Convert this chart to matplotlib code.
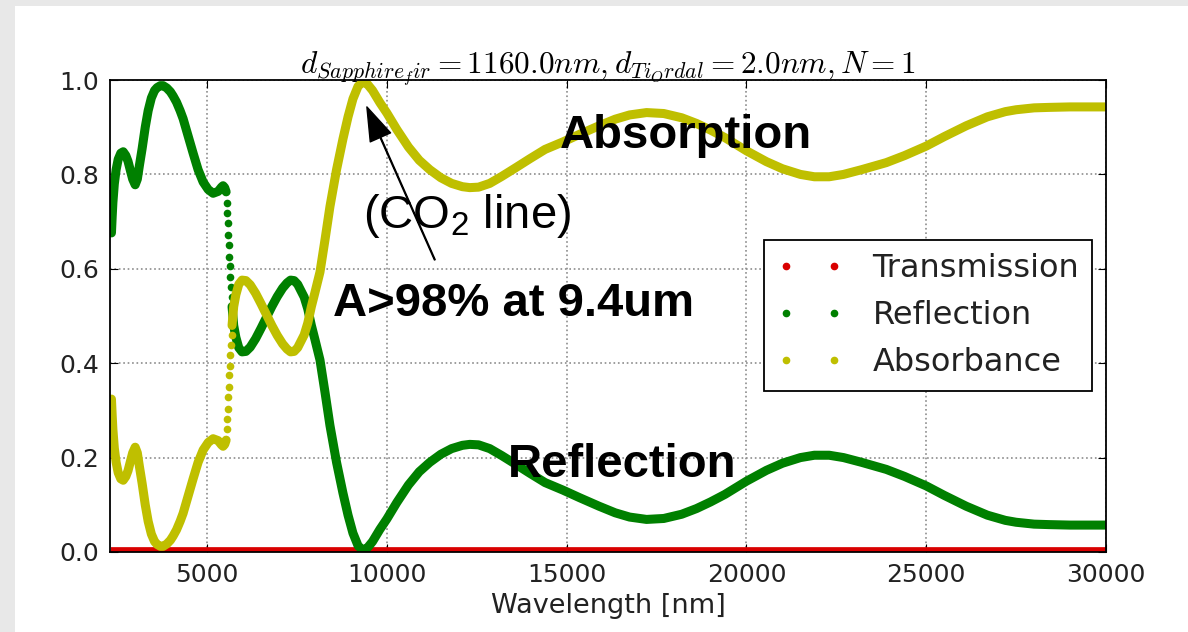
import matplotlib
matplotlib.use("Agg")
import matplotlib.pyplot as plt
from matplotlib.lines import Line2D
from matplotlib.patches import Rectangle

# valores (longitud de onda en nm)
# tramo antes del salto
wl_a = [2340, 2360, 2380, 2420, 2470, 2528, 2600, 2667, 2740, 2800, 2861, 2930,
        3000, 3060, 3120, 3194, 3280, 3361, 3450, 3540, 3611, 3700, 3778, 3880,
        3980, 4056, 4150, 4250, 4333, 4470, 4611, 4750, 4889, 5030, 5167, 5306,
        5400, 5444, 5490, 5530]
refl_a = [0.676, 0.71, 0.74, 0.78, 0.81, 0.832, 0.845, 0.848, 0.84, 0.828, 0.81, 0.79,
          0.778, 0.79, 0.82, 0.855, 0.9, 0.935, 0.962, 0.978, 0.984, 0.988, 0.988, 0.983,
          0.975, 0.966, 0.953, 0.935, 0.918, 0.882, 0.845, 0.81, 0.784, 0.768, 0.76, 0.764,
          0.773, 0.776, 0.772, 0.763]
abs_a = [0.324, 0.29, 0.26, 0.22, 0.19, 0.168, 0.155, 0.152, 0.16, 0.172, 0.19, 0.21,
         0.222, 0.21, 0.18, 0.145, 0.1, 0.065, 0.038, 0.022, 0.016, 0.012, 0.012, 0.017,
         0.025, 0.034, 0.047, 0.065, 0.082, 0.118, 0.155, 0.19, 0.216, 0.232, 0.24, 0.236,
         0.227, 0.224, 0.228, 0.237]

# salto (puntos sueltos)
wl_j = [5545, 5560, 5575, 5590, 5605, 5620, 5635, 5650, 5665, 5680]
refl_j = [0.739, 0.718, 0.697, 0.672, 0.65, 0.626, 0.605, 0.583, 0.562, 0.541]
abs_j = [0.261, 0.282, 0.303, 0.328, 0.35, 0.374, 0.395, 0.417, 0.438, 0.459]

# tramo despues del salto
wl_b = [5694, 5740, 5800, 5880, 5972, 6080, 6200, 6350, 6500, 6650, 6800, 6950,
        7100, 7222, 7320, 7420, 7520, 7620, 7700, 7800, 7900, 8000, 8139, 8280,
        8417, 8600, 8778, 8920, 9056, 9200, 9333, 9450, 9600, 9806, 10000, 10278,
        10600, 10900, 11194, 11500, 11800, 12100, 12306, 12550, 12861, 13200, 13600,
        13972, 14400, 14900, 15361, 15900, 16350, 16750, 17222, 17700, 18200, 18611,
        19000, 19400, 20000, 20556, 21000, 21500, 21889, 22300, 22700, 23200, 23889,
        24400, 25000, 25500, 26111, 26700, 27200, 27500, 28000, 28417, 29000, 30000]
refl_b = [0.52, 0.48, 0.455, 0.433, 0.424, 0.425, 0.434, 0.452, 0.474, 0.497, 0.52, 0.541,
          0.559, 0.57, 0.576, 0.575, 0.567, 0.552, 0.54, 0.515, 0.48, 0.45, 0.407, 0.338,
          0.268, 0.19, 0.125, 0.078, 0.04, 0.013, 0.004, 0.008, 0.022, 0.048, 0.07, 0.105,
          0.142, 0.17, 0.19, 0.207, 0.219, 0.226, 0.228, 0.227, 0.219, 0.204, 0.185,
          0.167, 0.147, 0.131, 0.115, 0.097, 0.083, 0.074, 0.069, 0.071, 0.08, 0.092,
          0.106, 0.122, 0.15, 0.173, 0.188, 0.2, 0.205, 0.205, 0.2, 0.19, 0.175,
          0.16, 0.14, 0.12, 0.097, 0.078, 0.067, 0.063, 0.059, 0.058, 0.057, 0.057]
abs_b = [0.48, 0.52, 0.545, 0.567, 0.576, 0.575, 0.566, 0.548, 0.526, 0.503, 0.48, 0.459,
         0.441, 0.43, 0.424, 0.425, 0.433, 0.448, 0.46, 0.485, 0.52, 0.55, 0.593, 0.662,
         0.732, 0.81, 0.875, 0.922, 0.96, 0.987, 0.996, 0.992, 0.978, 0.952, 0.93, 0.895,
         0.858, 0.83, 0.81, 0.793, 0.781, 0.774, 0.772, 0.773, 0.781, 0.796, 0.815,
         0.833, 0.853, 0.869, 0.885, 0.903, 0.917, 0.926, 0.931, 0.929, 0.92, 0.908,
         0.894, 0.878, 0.85, 0.827, 0.812, 0.8, 0.795, 0.795, 0.8, 0.81, 0.825,
         0.84, 0.86, 0.88, 0.903, 0.922, 0.933, 0.937, 0.941, 0.942, 0.943, 0.943]

wl_t = [2340, 30000]
trans = [0.0, 0.0]

plt.rcParams['mathtext.fontset'] = 'custom'
plt.rcParams['mathtext.rm'] = 'Liberation Sans'
plt.rcParams['mathtext.it'] = 'Liberation Sans'

fig = plt.figure(figsize=(11.88, 6.32), dpi=100, facecolor='#e8e8e8')
fig.patches.append(Rectangle((15 / 1188, 0), 1, 1 - 6 / 632, transform=fig.transFigure,
                             facecolor='white', edgecolor='none', zorder=-1))
ax = fig.add_axes([0.0926, 0.1266, 0.8384, 0.7468])

verde = (0, 0.5, 0)
amarillo = (0.75, 0.75, 0)
rojo = (0.85, 0, 0)
estilo = dict(lw=6.5, solid_capstyle='round', solid_joinstyle='round')

ax.plot(wl_t, trans, color=rojo, lw=7, solid_capstyle='butt')
ax.plot(wl_a, refl_a, color=verde, **estilo)
ax.plot(wl_j, refl_j, 'o', color=verde, ms=5.5, mec='none')
ax.plot(wl_b, refl_b, color=verde, **estilo)
ax.plot(wl_a, abs_a, color=amarillo, **estilo)
ax.plot(wl_j, abs_j, 'o', color=amarillo, ms=5.5, mec='none')
ax.plot(wl_b, abs_b, color=amarillo, **estilo)

ax.set_xlim(2300, 30000)
ax.set_ylim(0, 1)
ax.set_xticks([5000, 10000, 15000, 20000, 25000, 30000])
ax.set_yticks([0.0, 0.2, 0.4, 0.6, 0.8, 1.0])
ax.grid(True, color='0.55', linestyle=':', lw=1.2)
ax.tick_params(direction='in', top=True, right=True, length=6, labelsize=18,
               labelcolor='#222222', pad=8)
for s in ax.spines.values():
    s.set_linewidth(1.3)
ax.set_xlabel("Wavelength [nm]", fontsize=19.5, color='#222222', labelpad=4)
ax.set_title(r'$d_{Sapphire_fir}=1160.0nm,d_{Ti_Ordal}=2.0nm,N=1$',
             fontsize=22.5, math_fontfamily='cm', pad=4)

handles = [Line2D([], [], color=rojo, marker='.', ls='None', ms=9),
           Line2D([], [], color=verde, marker='.', ls='None', ms=9),
           Line2D([], [], color=amarillo, marker='.', ls='None', ms=9)]
leg = ax.legend(handles, ['Transmission', 'Reflection', 'Absorbance'],
                loc='upper right', bbox_to_anchor=(0.986, 0.661), numpoints=2,
                fontsize=23, fancybox=False, framealpha=1, handlelength=2.1,
                handletextpad=0.9, borderpad=0.4, borderaxespad=0)
leg.get_frame().set_edgecolor('black')
leg.get_frame().set_linewidth(1.3)
for t in leg.get_texts():
    t.set_color('#222222')

fuente = 'Liberation Sans'
ax.text(14806, 0.856, 'Absorption', fontsize=34, fontweight='bold', family=fuente)
ax.text(13361, 0.159, 'Reflection', fontsize=34, fontweight='bold', family=fuente)
ax.text(8500, 0.5, 'A>98% at 9.4um', fontsize=34, fontweight='bold', family=fuente)
ax.text(9333, 0.686, r'(CO$_2$ line)', fontsize=34, family=fuente)
ax.annotate('', xy=(9444, 0.943), xytext=(11333, 0.619),
            arrowprops=dict(facecolor='black', edgecolor='black', width=0.6,
                            headwidth=16, headlength=24, shrink=0))

fig.savefig("out.png", dpi=100, facecolor=fig.get_facecolor())
